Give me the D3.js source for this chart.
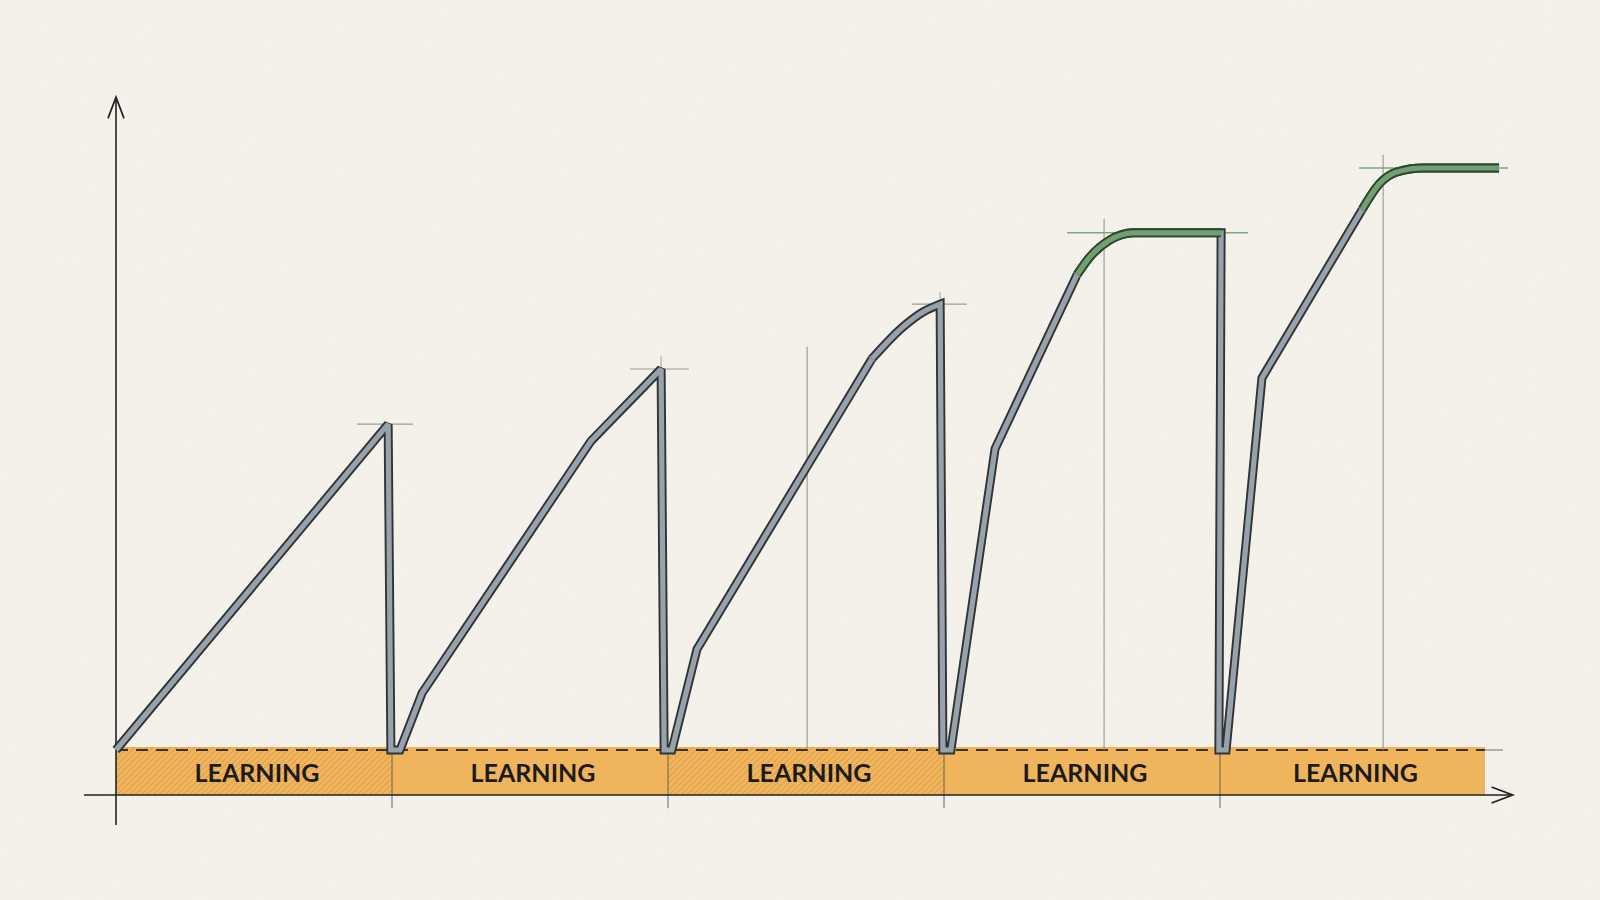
<!DOCTYPE html>
<html lang="en">
<head>
<meta charset="utf-8" />
<script src="https://cdnjs.cloudflare.com/ajax/libs/d3/7.8.5/d3.min.js"></script>
<style>
  body { margin: 0; background: #f5f3ec; }
  svg { display: block; }
  .label { font-family: 'Lato', sans-serif; font-size: 24px; font-weight: 700; fill: #1b1b1b; }
</style>
</head>
<body>
<div class="svg-box"></div>
<script>
// learning phases along the time axis
var phaseStart = [0, 1, 2, 3, 4];
var phaseEnd = [1, 2, 3, 4, 4.96];
var phaseHatched = [true, false, true, false, false];
var phaseLabels = ['LEARNING', 'LEARNING', 'LEARNING', 'LEARNING', 'LEARNING'];

// performance line (time, level), pieces
var climbA = [[0, 0], [0.986, 54.3], [0.996, 0], [1.029, 0], [1.109, 9.5], [1.721, 51.5],
              [1.975, 63.5], [1.986, 0], [2.014, 0], [2.105, 16.8], [2.739, 65.2]];
var bend3 = [[2.739, 65.2], [2.851, 70.5], [2.924, 73], [2.986, 74.3]];
var climbB = [[2.986, 74.3], [2.996, 0], [3.025, 0], [3.185, 50.2], [3.482, 79.2]];
var plateau4 = [[3.482, 79.2], [3.529, 82.2], [3.601, 85], [3.685, 86.2], [4.004, 86.2]];
var climbC = [[4.004, 86.2], [3.996, 0], [4.022, 0], [4.152, 62], [4.514, 90]];
var plateau5 = [[4.514, 90], [4.580, 94.5], [4.638, 96.3], [4.736, 97], [5.011, 97]];

// peak markers
var peakFrom = [0.873, 1.862, 2.884, 3.446, 4.504];
var peakTo = [1.076, 2.076, 3.083, 4.101, 5.043];
var peakLevel = [54.3, 63.5, 74.3, 86.2, 97];
var peakGreen = [false, false, false, true, true];
var peakStemX = [1.975, 2.986];
var peakStemTop = [65.6, 76.3];

// thin vertical guides
var guideX = [2.504, 3.580, 4.591];
var guideTop = [67.2, 88.5, 99.2];

// little kink ticks
var kinkX = [2.739, 3.482, 4.514];
var kinkY = [65.2, 79.2, 90];

var width = 1600, height = 900;

var x = d3.scaleLinear().domain([0, 5]).range([116, 1496]);
var y = d3.scaleLinear().domain([0, 100]).range([750, 150]);

var svg = d3.select('div.svg-box')
    .append('svg')
    .attr('width', width)
    .attr('height', height);

var defs = svg.append('defs');

// paper grain
var grain = defs.append('filter').attr('id', 'grain')
    .attr('x', 0).attr('y', 0).attr('width', '100%').attr('height', '100%');
grain.append('feTurbulence').attr('type', 'fractalNoise')
    .attr('baseFrequency', 0.9).attr('numOctaves', 2).attr('seed', 3);
grain.append('feColorMatrix').attr('type', 'matrix')
    .attr('values', '0 0 0 0 0.45  0 0 0 0 0.42  0 0 0 0 0.35  0 0 0 0.3 0');

var hatch = defs.append('pattern').attr('id', 'hatch')
    .attr('patternUnits', 'userSpaceOnUse')
    .attr('width', 6).attr('height', 6);
hatch.append('path')
    .attr('d', 'M-1,1 L1,-1 M0,6 L6,0 M5,7 L7,5')
    .attr('stroke', '#c98532').attr('stroke-width', 0.8).attr('opacity', 0.75);

svg.append('rect').attr('width', width).attr('height', height).attr('fill', '#f5f3ec');
svg.append('rect').attr('width', width).attr('height', height)
    .attr('filter', 'url(#grain)').attr('opacity', 0.2);

// -- band of learning phases --
var band = svg.append('g');
var bandTop = y(0.5), bandBottom = y(-7.5);
phaseStart.forEach(function (s, i) {
    band.append('rect')
        .attr('x', x(s)).attr('y', bandTop)
        .attr('width', x(phaseEnd[i]) - x(s))
        .attr('height', bandBottom - bandTop)
        .attr('fill', '#f0b45c');
    if (phaseHatched[i]) {
        band.append('rect')
            .attr('x', x(s)).attr('y', bandTop)
            .attr('width', x(phaseEnd[i]) - x(s))
            .attr('height', bandBottom - bandTop)
            .attr('fill', 'url(#hatch)');
    }
    band.append('text')
        .attr('class', 'label')
        .attr('x', x((s + phaseEnd[i]) / 2) + 3)
        .attr('y', y(-5.3))
        .attr('text-anchor', 'middle')
        .attr('textLength', 125)
        .attr('lengthAdjust', 'spacingAndGlyphs')
        .text(phaseLabels[i]);
});

// phase dividers
svg.selectAll('line.divider')
    .data(phaseStart.slice(1))
    .enter().append('line')
    .attr('class', 'divider')
    .attr('x1', function (d) { return x(d); })
    .attr('x2', function (d) { return x(d); })
    .attr('y1', y(0))
    .attr('y2', y(-9.7))
    .attr('stroke', '#6b6455').attr('stroke-width', 1);

// dashed baseline
svg.append('line')
    .attr('x1', x(0)).attr('x2', x(phaseEnd[4]))
    .attr('y1', y(0)).attr('y2', y(0))
    .attr('stroke', '#3a3326').attr('stroke-width', 2.2)
    .attr('stroke-dasharray', '12,8');
svg.append('line')
    .attr('x1', x(phaseEnd[4])).attr('x2', x(5.025))
    .attr('y1', y(0)).attr('y2', y(0))
    .attr('stroke', '#9a9a94').attr('stroke-width', 1.5);

// guides
svg.selectAll('line.guide')
    .data(guideX)
    .enter().append('line')
    .attr('class', 'guide')
    .attr('x1', function (d) { return x(d); })
    .attr('x2', function (d) { return x(d); })
    .attr('y1', y(0))
    .attr('y2', function (d, i) { return y(guideTop[i]); })
    .attr('stroke', '#8e8e88').attr('stroke-width', 1);

// peak ticks
svg.selectAll('line.peak')
    .data(peakLevel)
    .enter().append('line')
    .attr('class', 'peak')
    .attr('x1', function (d, i) { return x(peakFrom[i]); })
    .attr('x2', function (d, i) { return x(peakTo[i]); })
    .attr('y1', function (d) { return y(d); })
    .attr('y2', function (d) { return y(d); })
    .attr('stroke', function (d, i) { return peakGreen[i] ? '#7fa57e' : '#9c9c96'; })
    .attr('stroke-width', function (d, i) { return peakGreen[i] ? 1.5 : 1.2; });
svg.selectAll('line.stem')
    .data(peakStemX)
    .enter().append('line')
    .attr('class', 'stem')
    .attr('x1', function (d) { return x(d); })
    .attr('x2', function (d) { return x(d); })
    .attr('y1', function (d, i) { return y(peakStemTop[i] - 2); })
    .attr('y2', function (d, i) { return y(peakStemTop[i]); })
    .attr('stroke', '#a0a09a').attr('stroke-width', 1);

// -- axes --
var axisColor = '#222';
svg.append('line')
    .attr('x1', x(0)).attr('x2', x(0))
    .attr('y1', y(-12.5)).attr('y2', y(108.8))
    .attr('stroke', axisColor).attr('stroke-width', 1.6);
svg.append('path')
    .attr('d', 'M' + (x(0) - 8) + ',' + (y(108.8) + 21) + 'L' + x(0) + ',' + y(108.8) +
          'L' + (x(0) + 8) + ',' + (y(108.8) + 21))
    .attr('fill', 'none').attr('stroke', axisColor).attr('stroke-width', 1.8);
svg.append('line')
    .attr('x1', x(-0.116)).attr('x2', x(5.06))
    .attr('y1', y(-7.5)).attr('y2', y(-7.5))
    .attr('stroke', axisColor).attr('stroke-width', 1.6);
svg.append('path')
    .attr('d', 'M' + (x(5.06) - 21) + ',' + (y(-7.5) - 8) + 'L' + x(5.06) + ',' + y(-7.5) +
          'L' + (x(5.06) - 21) + ',' + (y(-7.5) + 8))
    .attr('fill', 'none').attr('stroke', axisColor).attr('stroke-width', 1.8);

// -- performance tube --
var straight = d3.line()
    .x(function (d) { return x(d[0]); })
    .y(function (d) { return y(d[1]); });
var smooth = d3.line()
    .x(function (d) { return x(d[0]); })
    .y(function (d) { return y(d[1]); })
    .curve(d3.curveMonotoneX);

function joinPieces(pieces) {
    return pieces.map(function (p, i) {
        var d = (p.smooth ? smooth : straight)(p.pts);
        return i === 0 ? d : d.replace(/^M[^A-Za-z]*/, '');
    }).join('');
}

var fullPath = joinPieces([
    { pts: climbA }, { pts: bend3, smooth: true }, { pts: climbB },
    { pts: plateau4, smooth: true }, { pts: climbC }, { pts: plateau5, smooth: true }
]);

function tube(d, dark, light) {
    svg.append('path').attr('d', d)
        .attr('fill', 'none').attr('stroke', dark).attr('stroke-width', 9)
        .attr('stroke-linejoin', 'miter').attr('stroke-miterlimit', 2.5);
    svg.append('path').attr('d', d)
        .attr('fill', 'none').attr('stroke', light).attr('stroke-width', 5.2)
        .attr('stroke-linejoin', 'miter').attr('stroke-miterlimit', 2.5);
}

tube(fullPath, '#2f3439', '#98a2ab');
tube(smooth(plateau4), '#2c4930', '#72a072');
tube(smooth(plateau5), '#2c4930', '#72a072');

// kink ticks
svg.selectAll('line.kink')
    .data(kinkX)
    .enter().append('line')
    .attr('class', 'kink')
    .attr('x1', function (d) { return x(d) - 4; })
    .attr('x2', function (d) { return x(d) + 4; })
    .attr('y1', function (d, i) { return y(kinkY[i]) - 3; })
    .attr('y2', function (d, i) { return y(kinkY[i]) + 3; })
    .attr('stroke', '#8a8f94').attr('stroke-width', 1);
</script>
</body>
</html>
